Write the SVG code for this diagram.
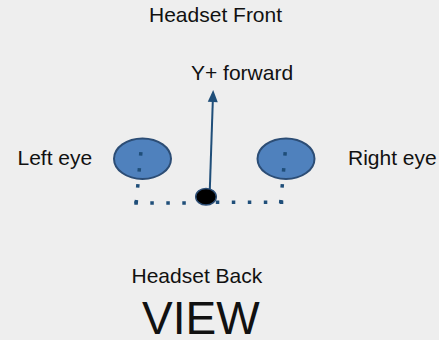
<svg xmlns="http://www.w3.org/2000/svg" width="439" height="340" viewBox="0 0 439 340">
  <style>
    .label { font-family: "Liberation Sans", Arial, sans-serif; font-size: 21px; fill: #111111; }
    .big { font-family: "Liberation Sans", Arial, sans-serif; font-size: 46px; fill: #111111; }
    .eye { fill: #4F81BD; stroke: #2C4D75; stroke-width: 2; }
    .dots { fill: none; stroke: #1F4E79; stroke-width: 3.5; stroke-dasharray: 3.5 12.5; }
    .axis { stroke: #1F4E79; stroke-width: 2; fill: none; }
  </style>
  <defs>
    <!-- triangular head pointing along the path direction -->
    <marker id="arrowhead" markerWidth="12" markerHeight="10" refX="1" refY="5" orient="auto" markerUnits="userSpaceOnUse" viewBox="0 0 12 10" overflow="visible">
      <path d="M0,0 L12,5 L0,10 Z" fill="#1F4E79"/>
    </marker>
  </defs>
  <rect width="439" height="340" fill="#EEEEEE"/>

  <g id="title-front"><text class="label" x="149" y="22">Headset Front</text></g>
  <g id="title-back"><text class="label" x="131.5" y="283">Headset Back</text></g>
  <g id="view-label"><text class="big" x="142" y="334">VIEW</text></g>

  <g id="left-eye">
    <ellipse class="eye" cx="142.5" cy="158.7" rx="28.5" ry="20.3"/>
    <text class="label" x="17.5" y="165">Left eye</text>
  </g>
  <g id="right-eye">
    <ellipse class="eye" cx="286" cy="158.7" rx="28.5" ry="20.3"/>
    <text class="label" x="348" y="165">Right eye</text>
  </g>

  <g id="forward-label"><text class="label" x="191" y="80">Y+ forward</text></g>

  <g id="connectors">
    <!-- dotted baseline joining both eyes through the head centre -->
    <path class="dots" d="M140.9,152.2 L136,205"/>
    <path class="dots" d="M134.3,203 H196"/>
    <path class="dots" d="M215.8,202.3 H284"/>
    <path class="dots" d="M285.2,152.2 L280.5,205"/>
    <!-- forward axis -->
    <path class="axis" d="M209.7,193 L212.8,101" marker-end="url(#arrowhead)"/>
  </g>

  <g id="head-centre">
    <ellipse cx="206" cy="196.7" rx="10.3" ry="8.3" fill="#000000" stroke="#2C4D75" stroke-width="1.5"/>
  </g>
</svg>
